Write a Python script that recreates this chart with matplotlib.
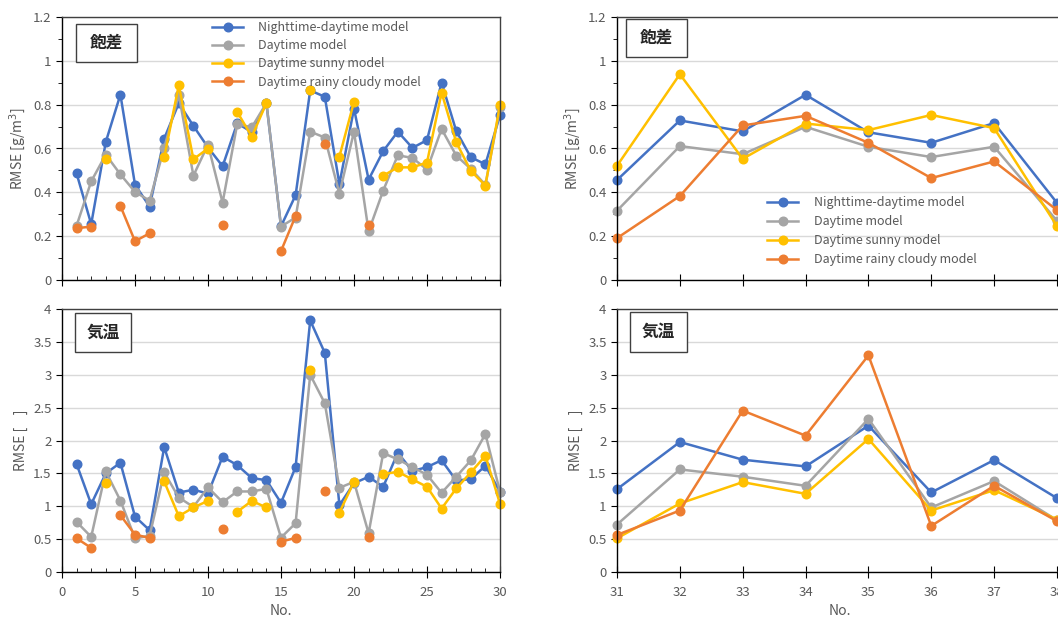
import numpy as np
import matplotlib
matplotlib.use('Agg')
import matplotlib.pyplot as plt
from matplotlib.patches import Rectangle
from matplotlib.ticker import MultipleLocator

plt.rcParams['font.family'] = ['Noto Sans CJK JP', 'DejaVu Sans']

nan = np.nan

# --- Data ---
no_left = list(range(1, 31))
no_right = list(range(31, 39))

labels = ['Nighttime-daytime model', 'Daytime model',
          'Daytime sunny model', 'Daytime rainy cloudy model']

# 飽差 (No. 1-30)
vpd_night = [0.486, 0.255, 0.630, 0.846, 0.435, 0.335, 0.645, 0.807, 0.703, 0.605,
             0.519, 0.715, 0.675, 0.807, 0.245, 0.387, 0.865, 0.836, 0.438, 0.782,
             0.458, 0.588, 0.677, 0.603, 0.638, 0.901, 0.680, 0.560, 0.528, 0.752]
vpd_day = [0.248, 0.450, 0.572, 0.482, 0.402, 0.362, 0.603, 0.846, 0.476, 0.618,
           0.353, 0.711, 0.697, 0.807, 0.244, 0.285, 0.677, 0.650, 0.394, 0.677,
           0.222, 0.408, 0.569, 0.557, 0.504, 0.689, 0.568, 0.507, 0.434, 0.788]
vpd_sunny = [nan, nan, 0.551, nan, nan, nan, 0.559, 0.889, 0.551, 0.600,
             nan, 0.767, 0.654, 0.807, nan, nan, 0.868, nan, 0.563, 0.813,
             nan, 0.476, 0.514, 0.514, 0.536, 0.855, 0.629, 0.498, 0.431, 0.799]
vpd_rainy = [0.236, 0.244, nan, 0.338, 0.177, 0.213, nan, nan, nan, nan,
             0.251, nan, nan, nan, 0.132, 0.292, nan, 0.621, nan, nan,
             0.253, nan, nan, nan, nan, nan, nan, nan, nan, nan]

# 気温 (No. 1-30)
temp_night = [1.641, 1.031, 1.500, 1.662, 0.843, 0.635, 1.900, 1.209, 1.250, 1.194,
              1.753, 1.626, 1.428, 1.397, 1.052, 1.596, 3.826, 3.333, 1.016, 1.350,
              1.448, 1.296, 1.814, 1.535, 1.596, 1.700, 1.392, 1.412, 1.616, 1.220]
temp_day = [0.762, 0.534, 1.530, 1.087, 0.513, 0.550, 1.514, 1.133, 0.990, 1.286,
            1.062, 1.225, 1.225, 1.265, 0.523, 0.742, 3.000, 2.566, 1.280, 1.372,
            0.589, 1.809, 1.713, 1.596, 1.479, 1.204, 1.448, 1.697, 2.099, 1.220]
temp_sunny = [nan, nan, 1.347, nan, nan, nan, 1.377, 0.849, 0.981, 1.082,
              nan, 0.915, 1.082, 0.981, nan, nan, 3.074, nan, 0.904, 1.372,
              nan, 1.489, 1.524, 1.408, 1.296, 0.965, 1.270, 1.514, 1.768, 1.037]
temp_rainy = [0.513, 0.366, nan, 0.864, 0.569, 0.518, nan, nan, nan, nan,
              0.660, nan, nan, nan, 0.462, 0.518, nan, 1.230, nan, nan,
              0.528, nan, nan, nan, nan, nan, nan, nan, nan, nan]

# 飽差 (No. 31-38)
vpd_night_r = [0.456, 0.728, 0.678, 0.845, 0.674, 0.626, 0.716, 0.352]
vpd_day_r = [0.316, 0.611, 0.574, 0.699, 0.608, 0.561, 0.608, 0.270]
vpd_sunny_r = [0.521, 0.939, 0.553, 0.714, 0.684, 0.753, 0.693, 0.246]
vpd_rainy_r = [0.191, 0.383, 0.705, 0.749, 0.626, 0.465, 0.541, 0.319]

# 気温 (No. 31-38)
temp_night_r = [1.260, 1.977, 1.708, 1.606, 2.226, 1.210, 1.703, 1.123]
temp_day_r = [0.722, 1.560, 1.449, 1.311, 2.328, 0.981, 1.383, 0.788]
temp_sunny_r = [0.513, 1.042, 1.367, 1.189, 2.023, 0.935, 1.245, 0.798]
temp_rainy_r = [0.564, 0.935, 2.455, 2.074, 3.294, 0.701, 1.311, 0.773]

colors = ['#4472C4', '#A5A5A5', '#FFC000', '#ED7D31']
TXT = '#595959'

W, H = 1058, 620
fig = plt.figure(figsize=(W / 100, H / 100), dpi=100)


def px_axes(x0, y0, x1, y1):
    return fig.add_axes([x0 / W, 1 - y1 / H, (x1 - x0) / W, (y1 - y0) / H])


def style_axes(ax, ymax, ystep, yminor, xlim, xmajor, xminor, show_xlabels):
    ax.set_ylim(0, ymax)
    ax.set_xlim(*xlim)
    ax.yaxis.set_major_locator(MultipleLocator(ystep))
    if yminor:
        ax.yaxis.set_minor_locator(MultipleLocator(yminor))
    ax.xaxis.set_major_locator(MultipleLocator(xmajor))
    if xminor:
        ax.xaxis.set_minor_locator(MultipleLocator(xminor))
    ax.grid(axis='y', color='#D9D9D9', linewidth=1.0)
    ax.set_axisbelow(True)
    for side in ['left', 'bottom']:
        ax.spines[side].set_color('black')
        ax.spines[side].set_linewidth(1.0)
    for side in ['top', 'right']:
        ax.spines[side].set_color('#404040')
        ax.spines[side].set_linewidth(1.0)
    ax.tick_params(axis='y', which='major', direction='out', length=4,
                   labelsize=9.5, labelcolor=TXT, color='black')
    ax.tick_params(axis='y', which='minor', direction='out', length=3, color='black')
    ax.tick_params(axis='x', which='major', direction='inout', length=8,
                   labelsize=9.5, labelcolor=TXT, color='black', pad=6)
    ax.tick_params(axis='x', which='minor', direction='in', length=3, color='black')
    if not show_xlabels:
        ax.tick_params(axis='x', labelbottom=False)
    ax.yaxis.set_major_formatter(plt.FuncFormatter(lambda v, p: f'{v:g}'))


def draw_series(ax, x, series):
    for ys, c, lab in zip(series, colors, labels):
        ax.plot(x, ys, color=c, linewidth=1.8, marker='o', markersize=6.2,
                label=lab, clip_on=False)


def label_box(text, x0, y0, x1, y1):
    fig.add_artist(Rectangle((x0 / W, 1 - y1 / H), (x1 - x0) / W, (y1 - y0) / H,
                             transform=fig.transFigure, facecolor='white',
                             edgecolor='#404040', linewidth=1.0, zorder=5))
    fig.text((x0 + x1) / 2 / W, 1 - (y0 + y1) / 2 / H, text, ha='center', va='center',
             fontsize=12, fontweight='bold', color='#262626', zorder=6)


# --- Axes ---
ax_tl = px_axes(62, 17, 500, 280)
ax_bl = px_axes(62, 309, 500, 572)
ax_tr = px_axes(617, 17, 1062, 280)
ax_br = px_axes(617, 309, 1062, 572)

draw_series(ax_tl, no_left, [vpd_night, vpd_day, vpd_sunny, vpd_rainy])
draw_series(ax_bl, no_left, [temp_night, temp_day, temp_sunny, temp_rainy])
draw_series(ax_tr, no_right, [vpd_night_r, vpd_day_r, vpd_sunny_r, vpd_rainy_r])
draw_series(ax_br, no_right, [temp_night_r, temp_day_r, temp_sunny_r, temp_rainy_r])

style_axes(ax_tl, 1.2, 0.2, 0.1, (0, 30), 5, 1, False)
style_axes(ax_bl, 4, 0.5, None, (0, 30), 5, 1, True)
style_axes(ax_tr, 1.2, 0.2, 0.1, (31, 38.08), 1, None, False)
style_axes(ax_br, 4, 0.5, None, (31, 38.08), 1, None, True)

for ax in [ax_tl, ax_tr]:
    ax.set_ylabel('RMSE [g/m$^3$]', fontsize=10, color=TXT, labelpad=4)
for ax in [ax_bl, ax_br]:
    ax.set_ylabel('RMSE [    ]', fontsize=10, color=TXT, labelpad=4)
    ax.set_xlabel('No.', fontsize=10, color=TXT, labelpad=4)

# --- Legends ---
ax_tl.legend(loc='upper left', bbox_to_anchor=(212 / W, 1 - 21 / H),
             bbox_transform=fig.transFigure, frameon=False, fontsize=9,
             handlelength=2.5, handletextpad=1.2, labelspacing=0.42,
             borderpad=0, borderaxespad=0, labelcolor=TXT)
ax_tr.legend(loc='upper left', bbox_to_anchor=(767 / W, 1 - 196 / H),
             bbox_transform=fig.transFigure, frameon=False, fontsize=9,
             handlelength=2.5, handletextpad=1.3, labelspacing=0.49,
             borderpad=0, borderaxespad=0, labelcolor=TXT)

# --- Label boxes ---
label_box('飽差', 76, 24, 137, 62)
label_box('気温', 75, 313, 131, 352)
label_box('飽差', 626, 19, 687, 57)
label_box('気温', 630, 312, 687, 352)

fig.savefig('out.png', dpi=100)
